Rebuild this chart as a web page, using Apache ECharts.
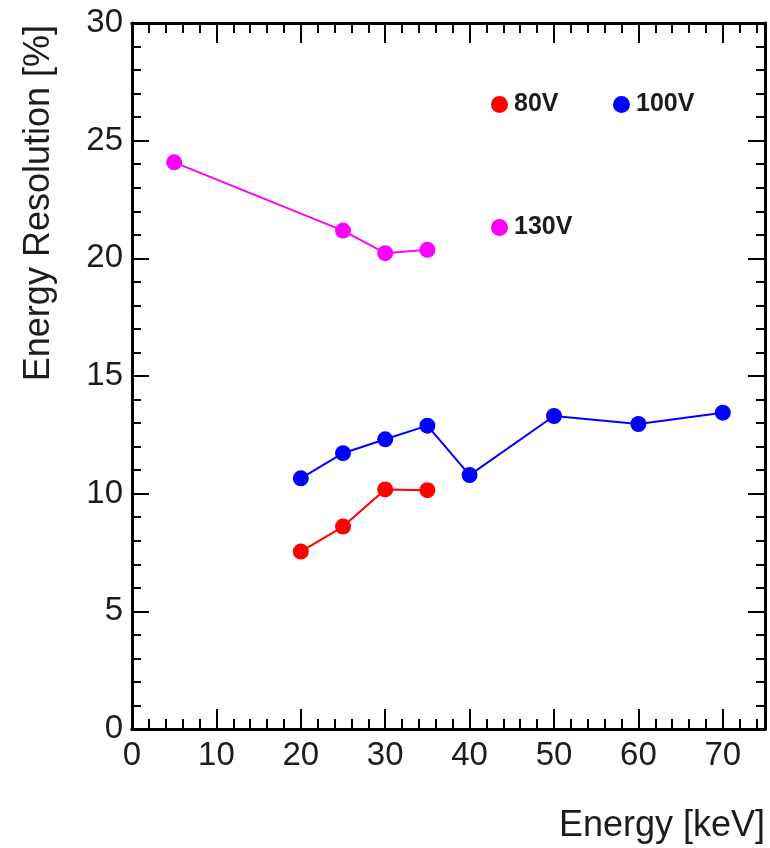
<!DOCTYPE html>
<html>
<head>
<meta charset="utf-8">
<script src="https://cdn.jsdelivr.net/npm/echarts@6/dist/echarts.min.js"></script>
<style>
  html, body { margin: 0; padding: 0; background: #fff; }
  #chart { width: 770px; height: 848px; }
</style>
</head>
<body>
<div id="chart"></div>
<script>
// Energy resolution vs. energy for three bias voltages
const energy80 = [20, 25, 30, 35];
const res80 = [7.54, 8.60, 10.18, 10.15];

const energy100 = [20, 25, 30, 35, 40, 50, 60, 70];
const res100 = [10.65, 11.72, 12.31, 12.89, 10.79, 13.30, 12.96, 13.44];

const energy130 = [5, 25, 30, 35];
const res130 = [24.08, 21.18, 20.22, 20.36];

const seriesNames = ['80V', '100V', '130V'];
const seriesColors = ['#ff0000', '#0000ff', '#ff00ff'];

const xRange = [0, 75];
const yRange = [0, 30];

const FONT = '"Liberation Sans", Arial, Helvetica, sans-serif';
const INK = '#1c1c1c';

function pairs(xs, ys) { return xs.map((x, i) => [x, ys[i]]); }

const axisLine = { show: true, onZero: false, lineStyle: { color: '#000', width: 3 } };

function xAxisDef(position, major, withLabels) {
  return {
    type: 'value', position, min: xRange[0], max: xRange[1],
    interval: major ? 10 : 2,
    axisLine,
    axisTick: { show: true, inside: true, length: major ? 20 : 10, lineStyle: { color: '#000', width: 2 } },
    axisLabel: withLabels ? {
      show: true, fontSize: 33, fontFamily: FONT, color: INK, margin: 10,
      showMaxLabel: false,
      formatter: v => (v % 10 === 0 ? String(v) : '')
    } : { show: false },
    splitLine: { show: false },
    minorTick: { show: false }
  };
}

function yAxisDef(position, withLabels) {
  return {
    type: 'value', position, min: yRange[0], max: yRange[1], interval: 5,
    axisLine,
    axisTick: { show: true, inside: true, length: 17, lineStyle: { color: '#000', width: 2 } },
    minorTick: { show: true, splitNumber: 5, length: 9, lineStyle: { color: '#000', width: 2 } },
    axisLabel: withLabels ? { show: true, fontSize: 33, fontFamily: FONT, color: INK, margin: 9 } : { show: false },
    splitLine: { show: false }
  };
}

const xMain = xAxisDef('bottom', true, true);
xMain.name = 'Energy [keV]';
xMain.nameLocation = 'end';
xMain.nameGap = 0;
xMain.nameMoveOverlap = false;
xMain.nameTextStyle = {
  fontSize: 36, fontFamily: FONT, color: INK,
  align: 'right', verticalAlign: 'top', padding: [79, 0, 0, 0]
};

const yMain = yAxisDef('left', true);
yMain.name = 'Energy Resolution [%]';
yMain.nameLocation = 'end';
yMain.nameGap = -2;
yMain.nameRotate = 90;
yMain.nameMoveOverlap = false;
yMain.nameTextStyle = {
  fontSize: 36, fontFamily: FONT, color: INK,
  align: 'right', verticalAlign: 'bottom', padding: [0, 0, 75, 0]
};

const dataSets = [pairs(energy80, res80), pairs(energy100, res100), pairs(energy130, res130)];

const series = seriesNames.map((name, i) => ({
  name,
  type: 'line',
  xAxisIndex: 0,
  yAxisIndex: 0,
  data: dataSets[i],
  symbol: 'circle',
  symbolSize: 16,
  showSymbol: true,
  color: seriesColors[i],
  itemStyle: { color: seriesColors[i] },
  lineStyle: { color: seriesColors[i], width: 2 },
  emphasis: { disabled: true },
  z: 3
}));

const legendBase = {
  orient: 'horizontal', padding: 0, itemWidth: 17, itemHeight: 17, icon: 'circle',
  selectedMode: false,
  textStyle: { fontSize: 25, fontWeight: 'bold', fontFamily: FONT, color: INK, padding: [0, 0, 0, 1] }
};

const option = {
  animation: false,
  backgroundColor: '#ffffff',
  grid: { left: 132, right: 5, top: 23, bottom: 119, containLabel: false },
  xAxis: [
    xMain,
    xAxisDef('bottom', false, false),
    xAxisDef('top', true, false),
    xAxisDef('top', false, false)
  ],
  yAxis: [
    yMain,
    yAxisDef('right', false)
  ],
  legend: [
    Object.assign({}, legendBase, { data: ['80V'], left: 491, top: 92 }),
    Object.assign({}, legendBase, { data: ['100V'], left: 613, top: 92 }),
    Object.assign({}, legendBase, { data: ['130V'], left: 491, top: 215 })
  ],
  series
};

const chart = echarts.init(document.getElementById('chart'), null, { renderer: 'canvas' });
chart.setOption(option);
</script>
</body>
</html>
